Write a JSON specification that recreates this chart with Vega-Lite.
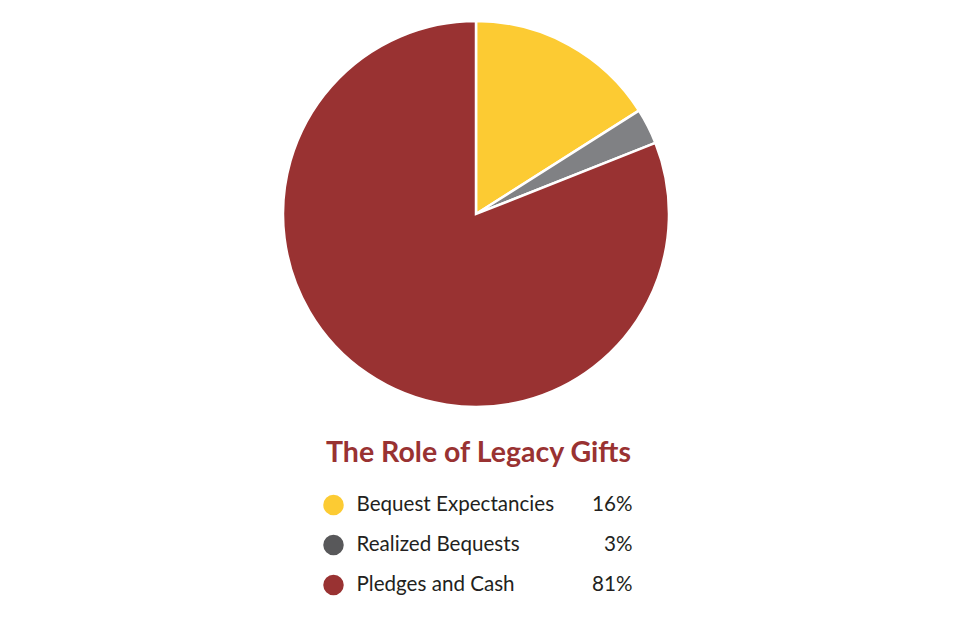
{
  "$schema": "https://vega.github.io/schema/vega-lite/v6.json",
  "padding": {"left": 278, "top": 16, "right": 0, "bottom": 0},
  "background": "white",
  "datasets": {
    "gifts": [
      {"category": "Bequest Expectancies", "share": 0.16, "rank": 1},
      {"category": "Realized Bequests", "share": 0.03, "rank": 2},
      {"category": "Pledges and Cash", "share": 0.81, "rank": 3}
    ]
  },
  "vconcat": [
    {
      "width": 386,
      "height": 386,
      "data": {"name": "gifts"},
      "mark": {"type": "arc", "stroke": "white", "strokeWidth": 2.5, "outerRadius": 193},
      "encoding": {
        "theta": {"field": "share", "type": "quantitative", "stack": true},
        "order": {"field": "rank", "type": "quantitative"},
        "color": {
          "field": "category",
          "type": "nominal",
          "scale": {"domain": ["Bequest Expectancies", "Realized Bequests", "Pledges and Cash"], "range": ["#FCCB33", "#808184", "#993232"]},
          "legend": null
        }
      }
    },
    {
      "width": 310,
      "height": 120,
      "data": {"name": "gifts"},
      "title": {"text": "The Role of Legacy Gifts", "font": "Lato", "fontSize": 28.5, "fontWeight": "bold", "color": "#993232", "anchor": "middle", "offset": 18},
      "encoding": {
        "y": {"field": "category", "type": "nominal", "sort": {"field": "rank"}, "axis": null}
      },
      "layer": [
        {
          "mark": {"type": "point", "filled": true, "size": 420, "opacity": 1},
          "encoding": {
            "x": {"datum": 10, "type": "quantitative", "scale": {"domain": [0, 310], "nice": false, "zero": false}, "axis": null},
            "color": {
              "field": "category",
              "type": "nominal",
              "scale": {"domain": ["Bequest Expectancies", "Realized Bequests", "Pledges and Cash"], "range": ["#FCCB33", "#58585A", "#993232"]},
              "legend": null
            }
          }
        },
        {
          "mark": {"type": "text", "align": "left", "baseline": "middle", "font": "Lato", "fontSize": 20.6, "color": "#231F20"},
          "encoding": {
            "x": {"datum": 33, "type": "quantitative"},
            "text": {"field": "category"}
          }
        },
        {
          "mark": {"type": "text", "align": "right", "baseline": "middle", "font": "Lato", "fontSize": 20.6, "color": "#231F20"},
          "encoding": {
            "x": {"datum": 309, "type": "quantitative"},
            "text": {"field": "share", "format": ".0%"}
          }
        }
      ]
    }
  ],
  "spacing": 26,
  "center": true,
  "resolve": {"scale": {"color": "independent"}},
  "config": {"view": {"stroke": null}}
}
